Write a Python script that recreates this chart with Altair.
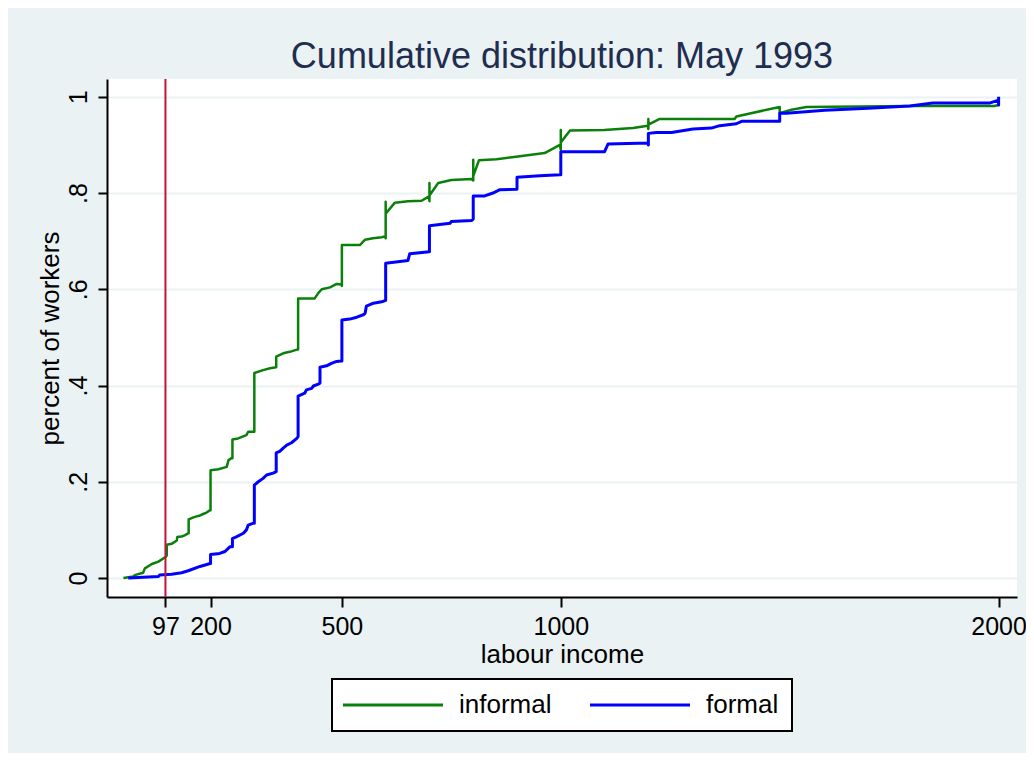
import altair as alt
import pandas as pd

# ---- data ----
series_names = ["informal", "formal"]
series_colors = ["#0A800A", "#0000FF"]

informal_income = [1, 24, 27, 46, 50, 66, 81, 98, 100, 100, 111, 123, 124, 134, 142, 149, 150, 150,
                   161, 168, 176, 183, 191, 199, 200, 200, 218, 237, 241, 248, 250, 250, 263, 282,
                   286, 299, 300, 300, 320, 336, 350, 350, 366, 381, 399, 400, 400, 438, 446, 454,
                   473, 488, 499, 500, 500, 541, 553, 571, 591, 598, 600, 600, 600, 621, 651, 682,
                   699, 700, 700, 700, 720, 750, 796, 800, 800, 800, 813, 853, 902, 963, 998, 1000,
                   1000, 1000, 1021, 1099, 1165, 1199, 1200, 1200, 1200, 1226, 1397, 1401, 1500,
                   1500, 1527, 1561, 1797, 1990, 2000, 2000]
informal_cdf = [0.000, 0.003, 0.006, 0.011, 0.020, 0.029, 0.034, 0.044, 0.047, 0.069, 0.071, 0.078,
                0.085, 0.086, 0.089, 0.093, 0.093, 0.122, 0.126, 0.128, 0.130, 0.133, 0.136, 0.141,
                0.141, 0.224, 0.226, 0.231, 0.245, 0.249, 0.249, 0.288, 0.290, 0.297, 0.304, 0.304,
                0.304, 0.426, 0.432, 0.436, 0.438, 0.460, 0.467, 0.470, 0.475, 0.475, 0.581, 0.581,
                0.592, 0.600, 0.604, 0.611, 0.610, 0.607, 0.692, 0.692, 0.703, 0.706, 0.708, 0.710,
                0.706, 0.782, 0.757, 0.780, 0.783, 0.784, 0.793, 0.783, 0.821, 0.795, 0.821, 0.827,
                0.829, 0.826, 0.869, 0.835, 0.868, 0.870, 0.876, 0.883, 0.900, 0.890, 0.931, 0.905,
                0.930, 0.931, 0.935, 0.940, 0.933, 0.954, 0.942, 0.954, 0.954, 0.959, 0.979, 0.966,
                0.973, 0.979, 0.981, 0.981, 0.983, 0.995]

formal_income = [12, 81, 84, 111, 134, 149, 176, 199, 200, 200, 221, 233, 241, 244, 250, 250, 260,
                 275, 282, 286, 298, 300, 300, 309, 320, 328, 343, 350, 350, 358, 366, 374, 385,
                 397, 400, 400, 415, 419, 431, 435, 446, 450, 450, 465, 476, 488, 499, 500, 500,
                 518, 534, 549, 553, 556, 572, 591, 600, 600, 651, 655, 700, 700, 747, 750, 796,
                 800, 800, 826, 845, 861, 900, 900, 952, 975, 998, 1000, 1000, 1013, 1100, 1108,
                 1199, 1200, 1200, 1218, 1253, 1302, 1344, 1363, 1401, 1413, 1500, 1500, 1515,
                 1603, 1702, 1797, 1850, 1979, 2000, 2000, 2000]
formal_cdf = [0.000, 0.003, 0.006, 0.008, 0.011, 0.015, 0.024, 0.030, 0.030, 0.049, 0.051, 0.055,
              0.062, 0.065, 0.065, 0.082, 0.086, 0.093, 0.100, 0.110, 0.114, 0.114, 0.193, 0.200,
              0.207, 0.214, 0.218, 0.221, 0.260, 0.263, 0.270, 0.276, 0.281, 0.290, 0.294, 0.378,
              0.384, 0.391, 0.394, 0.399, 0.403, 0.405, 0.438, 0.441, 0.446, 0.450, 0.451, 0.451,
              0.536, 0.538, 0.542, 0.547, 0.550, 0.565, 0.571, 0.574, 0.577, 0.654, 0.660, 0.674,
              0.678, 0.732, 0.737, 0.741, 0.743, 0.746, 0.794, 0.794, 0.800, 0.807, 0.808, 0.833,
              0.836, 0.837, 0.838, 0.838, 0.886, 0.886, 0.886, 0.902, 0.904, 0.900, 0.924, 0.926,
              0.926, 0.933, 0.935, 0.940, 0.944, 0.949, 0.949, 0.966, 0.966, 0.972, 0.976, 0.981,
              0.987, 0.987, 0.993, 0.983, 1.000]

cutoff = [97]
x_ticks = [97, 200, 500, 1000, 2000]
y_ticks = [0, 0.2, 0.4, 0.6, 0.8, 1]

rows = []
for i, (x, y) in enumerate(zip(informal_income, informal_cdf)):
    rows.append({"income": x, "cdf": y, "group": series_names[0], "i": i})
for i, (x, y) in enumerate(zip(formal_income, formal_cdf)):
    rows.append({"income": x, "cdf": y, "group": series_names[1], "i": i})
df = pd.DataFrame(rows)

FONT = "Liberation Sans"

x_scale = alt.Scale(domain=[-36.5, 2042], nice=False, zero=False)
y_scale = alt.Scale(domain=[-0.0395, 1.037], nice=False, zero=False)
color_scale = alt.Scale(domain=series_names, range=series_colors)

x_axis = alt.Axis(values=x_ticks, format="d", title="labour income", grid=False,
                  domainColor="black", domainWidth=2, tickColor="black", tickWidth=2,
                  tickSize=10, labelFont=FONT, labelFontSize=25, labelColor="black",
                  labelPadding=7, labelFlush=False, labelOverlap=False,
                  titleFont=FONT, titleFontSize=26, titleFontWeight="normal",
                  titleColor="black", titleBaseline="alphabetic", titleY=65)
y_axis = alt.Axis(values=y_ticks, title="percent of workers", grid=True,
                  gridColor="#EAF2F3", gridWidth=2,
                  labelExpr="datum.value == 0 ? '0' : datum.value == 1 ? '1' : substring(format(datum.value, '.1f'), 1)",
                  domainColor="black", domainWidth=2, tickColor="black", tickWidth=2,
                  tickSize=9, labelAngle=270, labelAlign="center", labelBaseline="alphabetic",
                  labelPadding=12, labelFont=FONT, labelFontSize=25, labelColor="black",
                  labelFlush=False, labelOverlap=False,
                  titleFont=FONT, titleFontSize=26, titleFontWeight="normal",
                  titleColor="black", titleAngle=270, titleBaseline="alphabetic",
                  titleX=-49, titleY=259)

# Legend sample: a 100px stroke drawn from a small symbol (size 400 -> unit = 10px)
legend = alt.Legend(title=None, orient="none", legendX=225, legendY=600,
                    direction="horizontal", symbolType="M-1.5,0H8.5", symbolSize=400,
                    symbolStrokeWidth=3, labelFont=FONT, labelFontSize=26,
                    labelColor="black", labelOffset=88, columnPadding=32, padding=13,
                    strokeColor="black", fillColor="white")

def series_layer(name, width):
    return alt.Chart(df).transform_filter(
        alt.datum.group == name
    ).mark_line(strokeWidth=width, strokeJoin="round").encode(
        x=alt.X("income:Q", scale=x_scale, axis=x_axis),
        y=alt.Y("cdf:Q", scale=y_scale, axis=y_axis),
        color=alt.Color("group:N", scale=color_scale, legend=legend),
        order=alt.Order("i:Q"),
    )

green = series_layer(series_names[0], 2.5)
blue = series_layer(series_names[1], 3)

red_line = alt.Chart(pd.DataFrame({"income": cutoff})).mark_rule(
    color="#C8103C", strokeWidth=2
).encode(x=alt.X("income:Q", scale=x_scale))

chart = alt.layer(green, blue, red_line).properties(
    width=910,
    height=518,
    padding={"left": 99, "top": 71, "right": 9, "bottom": 156},
    autosize=alt.AutoSizeParams(type="none"),
    background="#EAF2F3",
    title=alt.TitleParams("Cumulative distribution: May 1993", font=FONT, fontSize=36,
                          fontWeight="normal", color="#1F2D50", anchor="middle",
                          frame="group", baseline="alphabetic", offset=13, dy=39),
).configure_view(fill="white", strokeWidth=0).configure_legend(strokeWidth=2)

chart.save("out.html", embed_options={"renderer": "svg", "actions": False})
